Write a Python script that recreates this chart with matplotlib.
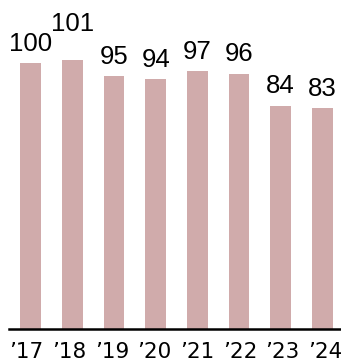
import numpy as np
import matplotlib.pyplot as plt
import matplotlib.transforms as mtransforms

plt.rcParams['font.family'] = ['Liberation Sans', 'DejaVu Sans']

# Data
years = ["\u201917", "\u201918", "\u201919", "\u201920", "\u201921", "\u201922", "\u201923", "\u201924"]
values = [100, 101, 95, 94, 97, 96, 84, 83]
# extra lift (points) for labels that would collide with a neighbour
label_lift = [0, 12.4, 0, 0, 0, 0, 0, 0]

W, H = 341, 364
fig = plt.figure(figsize=(W / 100, H / 100), dpi=100, facecolor='white')
ax = fig.add_axes([9 / W, 35 / H, 1 - 9 / W, 1 - 35 / H])

x = np.arange(len(values))
ax.bar(x, values, width=0.5, color='#d0abab')

for xi, v, lift in zip(x, values, label_lift):
    ax.annotate(str(v), (xi, v), xytext=(0, 8.8 + lift), textcoords='offset points',
                ha='center', va='baseline', fontsize=18.5, color='black')

ax.set_xlim(-0.52, 7.45)
ax.set_ylim(0, 123.7)

for s in ['top', 'right', 'left']:
    ax.spines[s].set_visible(False)
ax.spines['bottom'].set_linewidth(1.8)
ax.set_yticks([])
ax.set_xticks(x)
ax.set_xticklabels(years, fontsize=15.5, family='DejaVu Sans')
ax.tick_params(axis='x', length=0, pad=9)
# tick labels sit on a slightly wider spacing than the bars
for i, lbl in enumerate(ax.get_xticklabels()):
    dx = (-0.5 + (i - 3.5) * 1.0) / 100
    lbl.set_transform(lbl.get_transform() + mtransforms.ScaledTranslation(dx, 0, fig.dpi_scale_trans))

fig.savefig('out.png', dpi=100)
